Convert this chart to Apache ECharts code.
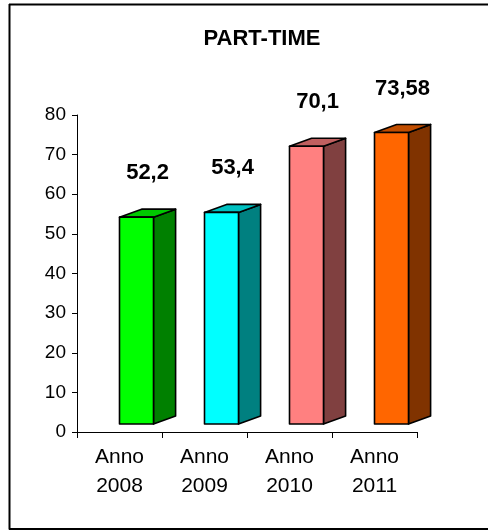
<!DOCTYPE html>
<html>
<head>
<meta charset="utf-8">
<title>PART-TIME</title>
<script src="https://cdn.jsdelivr.net/npm/echarts@6/dist/echarts.min.js"></script>
<style>
  html, body { margin: 0; padding: 0; background: #fff; }
  #chart { width: 488px; height: 531px; }
</style>
</head>
<body>
<div id="chart"></div>
<script>
// Part-time percentages per year
const categories = ['Anno\n2008', 'Anno\n2009', 'Anno\n2010', 'Anno\n2011'];
const values = [52.2, 53.4, 70.1, 73.58];
const valueLabels = ['52,2', '53,4', '70,1', '73,58'];
const yTicks = [0, 10, 20, 30, 40, 50, 60, 70, 80];

// Face colours of each column: front, side, top
const frontColors = ['#00FF00', '#00FFFF', '#FF8080', '#FF6600'];
const sideColors = ['#008000', '#008080', '#804040', '#803300'];
const topColors = ['#00C800', '#00C0C0', '#C06060', '#C04D00'];

const FONT = '"Liberation Sans", Arial, Helvetica, sans-serif';

const chart = echarts.init(document.getElementById('chart'), null, { renderer: 'canvas' });

// Draws one column as a box with front, side and top faces
function renderBox(params, api) {
  const idx = api.value(0);
  const v = api.value(1);
  const base = api.coord([idx, 0]);
  const top = api.coord([idx, v]);
  const band = api.size([1, 0])[0];
  const w = band * 0.4;        // front face width
  const dx = band * 0.26;      // depth, horizontal
  const dy = 8;                // depth, vertical
  const lift = 8;              // columns stand set back from the floor edge
  const x0 = base[0];
  const x1 = x0 + w;
  const yb = base[1] - lift;
  const yt = top[1] - lift;
  const stroke = { stroke: '#000', lineWidth: 1.6, lineJoin: 'round' };
  return {
    type: 'group',
    children: [
      {
        type: 'polygon',
        shape: { points: [[x1, yb], [x1, yt], [x1 + dx, yt - dy], [x1 + dx, yb - dy]] },
        style: Object.assign({ fill: sideColors[idx] }, stroke)
      },
      {
        type: 'polygon',
        shape: { points: [[x0, yt], [x1, yt], [x1 + dx, yt - dy], [x0 + dx, yt - dy]] },
        style: Object.assign({ fill: topColors[idx] }, stroke)
      },
      {
        type: 'rect',
        shape: { x: x0, y: yt, width: w, height: yb - yt },
        style: Object.assign({ fill: frontColors[idx] }, stroke)
      },
      {
        type: 'text',
        style: {
          x: x0 + (w + dx) / 2,
          y: yt - 44,
          text: valueLabels[idx],
          fill: '#000',
          font: 'bold 22px ' + FONT,
          textAlign: 'center',
          textVerticalAlign: 'middle'
        }
      }
    ]
  };
}

const option = {
  backgroundColor: '#fff',
  animation: false,
  title: {
    text: 'PART-TIME',
    left: 257,
    top: 23,
    textAlign: 'center',
    textStyle: { fontFamily: FONT, fontSize: 22, fontWeight: 'bold', color: '#000' }
  },
  grid: { left: 77, right: 71, top: 115, bottom: 99 },
  xAxis: {
    type: 'category',
    data: categories,
    boundaryGap: true,
    axisLine: { show: true, lineStyle: { color: '#000', width: 1 } },
    axisTick: { show: true, length: 6, lineStyle: { color: '#000', width: 1 } },
    axisLabel: {
      color: '#000', fontFamily: FONT, fontSize: 21, lineHeight: 29, margin: 11
    },
    splitLine: { show: false }
  },
  yAxis: {
    type: 'value',
    min: yTicks[0],
    max: yTicks[yTicks.length - 1],
    interval: yTicks[1] - yTicks[0],
    axisLine: { show: true, lineStyle: { color: '#000', width: 1 } },
    axisTick: { show: true, length: 5, lineStyle: { color: '#000', width: 1 } },
    axisLabel: { color: '#000', fontFamily: FONT, fontSize: 19, margin: 11 },
    splitLine: { show: false }
  },
  series: [{
    type: 'custom',
    renderItem: renderBox,
    data: values.map((v, i) => [i, v]),
    encode: { x: 0, y: 1 },
    clip: false
  }],
  graphic: [
    { type: 'line', shape: { x1: 9, y1: 4.5, x2: 488, y2: 4.5 }, style: { stroke: '#000', lineWidth: 2 } },
    { type: 'line', shape: { x1: 9.5, y1: 4, x2: 9.5, y2: 529.5 }, style: { stroke: '#000', lineWidth: 2 } },
    { type: 'line', shape: { x1: 9, y1: 529, x2: 488, y2: 529 }, style: { stroke: '#000', lineWidth: 2 } }
  ]
};

chart.setOption(option);
</script>
</body>
</html>
